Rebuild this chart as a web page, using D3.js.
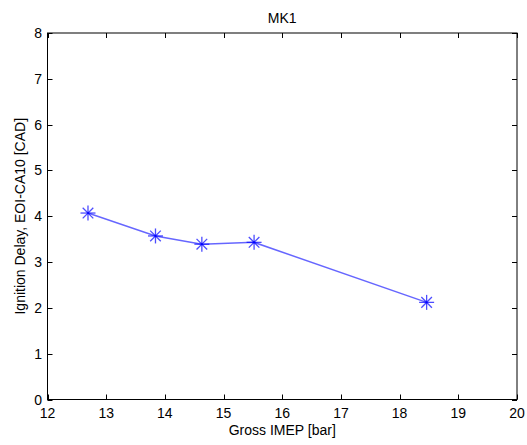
<!DOCTYPE html>
<html>
<head>
<meta charset="utf-8">
<script src="https://cdn.jsdelivr.net/npm/d3@7"></script>
<style>
  html, body { margin: 0; padding: 0; background: #fff; }
  text { font-family: "Liberation Sans", Arial, Helvetica, sans-serif; }
</style>
</head>
<body>
<svg id="chart" width="527" height="445"></svg>
<script>
// Data
const imep = [12.69, 13.84, 14.63, 15.52, 18.46];
const ignitionDelay = [4.07, 3.57, 3.39, 3.43, 2.12];
const xTicks = [12, 13, 14, 15, 16, 17, 18, 19, 20];
const yTicks = [0, 1, 2, 3, 4, 5, 6, 7, 8];
const title = "MK1";
const xLabel = "Gross IMEP [bar]";
const yLabel = "Ignition Delay, EOI-CA10 [CAD]";

const svg = d3.select("#chart");
const L = 47.5, R = 517, T = 33, B = 399.5;
const x = d3.scaleLinear().domain([12, 20]).range([L, R]);
const y = d3.scaleLinear().domain([0, 8]).range([B, T]);
const tl = 5;

svg.append("rect").attr("width", 527).attr("height", 445).attr("fill", "#fff");

// ticks (inward, mirrored)
const g = svg.append("g").attr("stroke", "#000").attr("stroke-width", 1);
xTicks.forEach(v => {
  const px = Math.round(x(v)) + 0.5;
  g.append("line").attr("x1", px).attr("x2", px).attr("y1", B).attr("y2", B - tl);
  g.append("line").attr("x1", px).attr("x2", px).attr("y1", T).attr("y2", T + tl);
});
yTicks.forEach(v => {
  const py = Math.round(y(v)) + 0.5;
  g.append("line").attr("x1", L).attr("x2", L + tl).attr("y1", py).attr("y2", py);
  g.append("line").attr("x1", R).attr("x2", R - tl).attr("y1", py).attr("y2", py);
});

// box
svg.append("rect").attr("x", L).attr("y", T).attr("width", R - L).attr("height", B - T)
  .attr("fill", "none").attr("stroke", "#000").attr("stroke-width", 1);

// tick labels
svg.append("g").selectAll("text").data(xTicks).join("text")
  .attr("x", d => x(d)).attr("y", 417.5).attr("text-anchor", "middle")
  .attr("font-size", 14).text(d => d);
svg.append("g").selectAll("text").data(yTicks).join("text")
  .attr("x", 42).attr("y", d => y(d) + 5).attr("text-anchor", "end")
  .attr("font-size", 14).text(d => d);

// labels
svg.append("text").attr("x", (L + R) / 2).attr("y", 23).attr("text-anchor", "middle")
  .attr("font-size", 14).text(title);
svg.append("text").attr("x", (L + R) / 2).attr("y", 435).attr("text-anchor", "middle")
  .attr("font-size", 14).text(xLabel);
svg.append("text").attr("transform", `translate(25,${(T + B) / 2}) rotate(-90)`)
  .attr("text-anchor", "middle").attr("font-size", 14).text(yLabel);

// line
const pts = imep.map((v, i) => [v, ignitionDelay[i]]);
svg.append("path").datum(pts)
  .attr("d", d3.line().x(d => x(d[0])).y(d => y(d[1])))
  .attr("fill", "none").attr("stroke", "#0000ff").attr("stroke-opacity", 0.6).attr("stroke-width", 1.5);

// asterisk markers
const m = svg.append("g").attr("stroke", "#0000ff").attr("stroke-opacity", 0.7).attr("stroke-width", 1.3);
pts.forEach(d => {
  const cx = x(d[0]), cy = y(d[1]);
  const a = 7.5, b = 5.3;
  m.append("line").attr("x1", cx - a).attr("x2", cx + a).attr("y1", cy).attr("y2", cy);
  m.append("line").attr("x1", cx).attr("x2", cx).attr("y1", cy - a).attr("y2", cy + a);
  m.append("line").attr("x1", cx - b).attr("x2", cx + b).attr("y1", cy - b).attr("y2", cy + b);
  m.append("line").attr("x1", cx - b).attr("x2", cx + b).attr("y1", cy + b).attr("y2", cy - b);
});
</script>
</body>
</html>
